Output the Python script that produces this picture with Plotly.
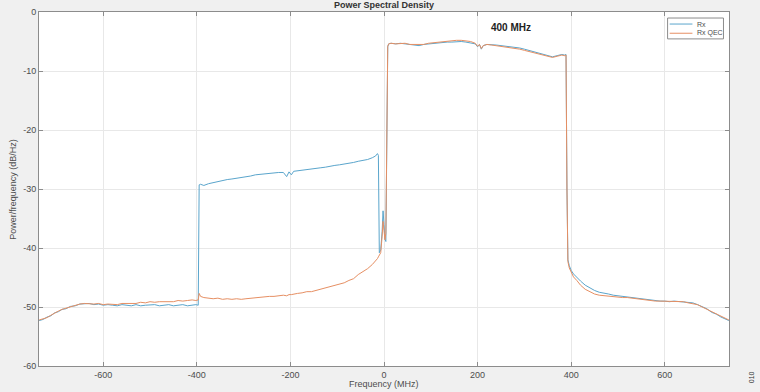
import plotly.graph_objects as go

freq_mhz = [-737, -728, -720, -712, -704, -696, -688, -680, -670, -660, -650, -640, -630, -620, -610,
            -600, -590, -580, -570, -560, -550, -540, -530, -520, -510, -500, -490, -480, -470, -460,
            -450, -440, -430, -420, -410, -402, -397, -395, -392, -385, -375, -365, -355, -345, -335,
            -325, -315, -305, -295, -285, -275, -265, -255, -245, -235, -225, -215, -208, -203, -198,
            -193, -185, -175, -165, -155, -145, -135, -125, -115, -105, -95, -85, -75, -65, -55,
            -45, -35, -25, -18, -14, -12, -10, -7, -4, -2, 0, 2, 4, 6, 8,
            10, 15, 25, 35, 45, 55, 65, 75, 85, 95, 105, 115, 125, 135, 145,
            155, 165, 175, 185, 195, 200, 204, 208, 212, 220, 230, 240, 250, 260, 270,
            280, 290, 300, 310, 320, 330, 340, 350, 360, 370, 380, 386, 389, 391, 393,
            396, 400, 405, 412, 420, 430, 440, 450, 460, 470, 480, 490, 500, 510, 520,
            530, 540, 550, 560, 570, 580, 590, 600, 610, 620, 630, 640, 650, 660, 670,
            680, 690, 700, 710, 720, 728, 737]

rx_db = [-52.3, -52.1, -51.7, -51.5, -51.0, -50.8, -50.4, -50.3, -49.9, -49.8, -49.5, -49.5, -49.4, -49.6, -49.5,
         -49.7, -49.6, -49.7, -49.8, -49.6, -49.7, -49.8, -49.6, -49.8, -49.7, -49.7, -49.6, -49.8, -49.7, -49.6,
         -49.8, -49.7, -49.6, -49.8, -49.7, -49.6, -49.7, -29.3, -29.2, -29.4, -29.1, -28.9, -28.7, -28.6, -28.4,
         -28.3, -28.2, -28.0, -27.9, -27.8, -27.6, -27.5, -27.4, -27.4, -27.3, -27.2, -27.2, -27.9, -27.1, -27.6,
         -27.0, -26.9, -26.8, -26.7, -26.6, -26.5, -26.4, -26.3, -26.1, -26.0, -25.9, -25.8, -25.6, -25.5, -25.3,
         -25.2, -25.0, -24.7, -24.4, -24.0, -24.3, -40.8, -40.3, -37.2, -33.7, -36.0, -38.5, -38.9, -25.0, -5.9,
         -5.4, -5.3, -5.4, -5.3, -5.4, -5.5, -5.6, -5.7, -5.5, -5.4, -5.3, -5.2, -5.2, -5.1, -5.1,
         -5.0, -5.0, -5.1, -5.2, -5.4, -5.9, -5.5, -6.3, -5.7, -5.5, -5.5, -5.6, -5.7, -5.8, -5.8,
         -5.9, -6.1, -6.3, -6.5, -6.7, -6.9, -7.1, -7.4, -7.6, -7.4, -7.2, -7.3, -7.2, -30.0, -42.0,
         -43.0, -43.8, -44.4, -45.0, -45.6, -46.3, -46.8, -47.2, -47.5, -47.6, -47.8, -48.0, -48.1, -48.2, -48.3,
         -48.4, -48.5, -48.6, -48.8, -48.9, -48.9, -49.0, -49.0, -49.1, -49.0, -49.1, -49.1, -49.2, -49.3, -49.6,
         -50.0, -50.3, -50.9, -51.2, -51.7, -52.0, -52.3]

rx_qec_db = [-52.2, -52.0, -51.8, -51.4, -51.0, -50.7, -50.4, -50.2, -49.9, -49.7, -49.5, -49.4, -49.5, -49.5, -49.4,
             -49.6, -49.5, -49.5, -49.6, -49.4, -49.4, -49.3, -49.4, -49.2, -49.3, -49.1, -49.2, -49.1, -49.1, -49.0,
             -49.1, -48.9, -49.0, -48.9, -48.8, -48.9, -48.8, -47.7, -48.2, -48.4, -48.5, -48.6, -48.5, -48.7, -48.6,
             -48.7, -48.6, -48.7, -48.6, -48.5, -48.4, -48.4, -48.3, -48.2, -48.2, -48.1, -48.0, -48.1, -47.9, -47.9,
             -47.8, -47.7, -47.6, -47.4, -47.4, -47.2, -47.0, -46.8, -46.6, -46.4, -46.1, -45.9, -45.5, -45.2, -44.5,
             -44.0, -43.5, -42.8, -42.2, -41.8, -41.5, -41.2, -40.8, -38.0, -35.5, -37.0, -38.6, -37.5, -20.0, -5.8,
             -5.4, -5.3, -5.4, -5.3, -5.3, -5.5, -5.5, -5.6, -5.5, -5.3, -5.2, -5.1, -5.1, -5.0, -4.9,
             -4.8, -4.8, -4.9, -5.0, -5.3, -5.8, -5.5, -6.2, -5.7, -5.5, -5.6, -5.7, -5.8, -5.9, -6.0,
             -6.1, -6.3, -6.5, -6.7, -6.9, -7.1, -7.3, -7.5, -7.7, -7.5, -7.3, -7.4, -7.3, -30.0, -42.3,
             -43.4, -44.2, -44.9, -45.5, -46.3, -47.0, -47.4, -47.8, -48.0, -48.1, -48.2, -48.3, -48.3, -48.4, -48.4,
             -48.5, -48.6, -48.8, -48.8, -48.9, -49.0, -49.0, -49.0, -49.1, -49.1, -49.1, -49.1, -49.3, -49.4, -49.6,
             -50.0, -50.4, -50.8, -51.2, -51.6, -51.9, -52.2]

series_names = ["Rx", "Rx QEC"]
series_colors = ["#5aa5cc", "#e68f63"]
x_ticks = [-600, -400, -200, 0, 200, 400, 600]
x_tick_labels = ["-600", "-400", "-200", "0", "200", "400", "600"]
y_ticks = [0, -10, -20, -30, -40, -50, -60]
y_tick_labels = ["0", "-10", "-20", "-30", "-40", "-50", "-60"]
x_range = [-737.28, 737.28]
y_range = [-60, 0]

FONT = "Liberation Sans, Arial, sans-serif"

fig = go.Figure()
for name, ys, col in zip(series_names, [rx_db, rx_qec_db], series_colors):
    fig.add_trace(go.Scatter(x=freq_mhz, y=ys, mode="lines", name=name,
                             line=dict(color=col, width=1), showlegend=False))

axis_common = dict(showline=True, linecolor="#8c8c8c", linewidth=1, mirror="ticks",
                   ticks="inside", ticklen=4, tickcolor="#8c8c8c", automargin=False,
                   showgrid=True, gridcolor="#e8e8e8", gridwidth=1, zeroline=False,
                   tickfont=dict(family=FONT, size=9, color="#4d4d4d"))

fig.update_layout(
    width=760, height=392,
    paper_bgcolor="#f0f0f0", plot_bgcolor="#ffffff",
    margin=dict(l=39, r=31, t=12, b=26, autoexpand=False),
    xaxis=dict(range=x_range, tickvals=x_ticks, ticktext=x_tick_labels, **axis_common),
    yaxis=dict(range=y_range, tickvals=y_ticks, ticktext=y_tick_labels, **axis_common),
    showlegend=False,
)

# title and axis titles
fig.add_annotation(xref="paper", yref="paper", x=0.5, y=1.02, text="<b>Power Spectral Density</b>",
                   showarrow=False, xanchor="center", yanchor="middle",
                   font=dict(family=FONT, size=9, color="#333333"))
fig.add_annotation(xref="paper", yref="paper", x=0.5, y=-0.05, text="Frequency (MHz)",
                   showarrow=False, xanchor="center", yanchor="middle",
                   font=dict(family=FONT, size=9, color="#4d4d4d"))
fig.add_annotation(xref="paper", yref="paper", x=-0.038, y=0.5, text="Power/frequency (dB/Hz)",
                   showarrow=False, xanchor="center", yanchor="middle", textangle=-90,
                   font=dict(family=FONT, size=9, color="#4d4d4d"))

# manual legend
fig.add_shape(type="rect", xref="paper", yref="paper", x0=0.911, x1=0.992, y0=0.924, y1=0.983,
              fillcolor="#ffffff", line=dict(color="#8c8c8c", width=1), layer="above")
legend_y = [0.966, 0.940]
for name, col, ly in zip(series_names, series_colors, legend_y):
    fig.add_shape(type="line", xref="paper", yref="paper", x0=0.914, x1=0.947, y0=ly, y1=ly,
                  line=dict(color=col, width=1), layer="above")
    fig.add_annotation(xref="paper", yref="paper", x=0.950, y=ly, text=name, showarrow=False,
                       xanchor="left", yanchor="middle",
                       font=dict(family=FONT, size=7, color="#4d4d4d"))

fig.add_annotation(x=272, y=-2.7, text="<b>400 MHz</b>", showarrow=False,
                   font=dict(family=FONT, size=10, color="#222222"))
fig.add_annotation(xref="paper", yref="paper", x=1.033, y=-0.055, text="010", showarrow=False,
                   textangle=-90, xanchor="center", yanchor="bottom",
                   font=dict(family=FONT, size=7, color="#333333"))

fig.write_html("out.html", config={"displayModeBar": False},
               post_script="document.body.style.margin='0';document.body.style.overflow='hidden';")
